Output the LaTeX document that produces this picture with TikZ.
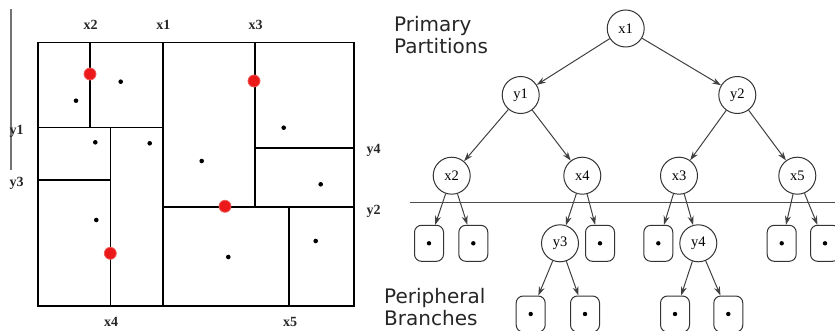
\documentclass[tikz,border=0pt]{standalone}
\usepackage{fontspec}
\setmainfont{Liberation Serif}
\newfontfamily\sansf{DejaVu Sans}
\usetikzlibrary{arrows.meta}
\begin{document}
\begin{tikzpicture}[x=1pt,y=-1pt,
  part/.style={line width=1.6pt,black},
  lbl/.style={font=\bfseries\fontsize{14}{16}\selectfont,text=black!85,inner sep=0pt},
  reddot/.style={fill={rgb,255:red,235;green,25;blue,25},draw={rgb,255:red,240;green,90;blue,90},line width=0.8pt},
  blkdot/.style={fill=black},
  tnode/.style={circle,draw=black!80,line width=1pt,minimum size=37pt,inner sep=0pt,font=\fontsize{14.5}{16}\selectfont},
  leaf/.style={draw=black!80,line width=1pt,rounded corners=7pt,minimum width=29pt,minimum height=36pt,inner sep=0pt},
  edge/.style={draw=black!75,line width=1pt,-{Stealth[length=9pt,width=6pt]}},
  side/.style={font=\sansf\fontsize{20}{22}\selectfont,text=black!85,align=left,inner sep=0pt,anchor=north west}
]
\useasboundingbox (0,0) rectangle (835,331);
% ---- left panel ----
\draw[line width=1.2pt,black!55] (11,9) -- (11,170);
\draw[part] (37.7,42.7) rectangle (354,305.7);
\draw[part] (162.7,42.7) -- (162.7,305.7);
\draw[part] (37.7,127.7) -- (162.7,127.7);
\draw[part] (90,42.7) -- (90,127.7);
\draw[part] (110.3,127.7) -- (110.3,305.7);
\draw[part] (37.7,180) -- (110.3,180);
\draw[part] (162.7,207.3) -- (354,207.3);
\draw[part] (255,42.7) -- (255,207.3);
\draw[part] (255,148) -- (354,148);
\draw[part] (288.7,207.3) -- (288.7,305.7);
% red split points
\foreach \p in {(90,74),(254,81),(225,206.3),(110.3,253.3)}
  \path[reddot] \p circle (6pt);
% data points
\foreach \p in {(120.7,81.7),(76,100.7),(95.3,142.3),(149.7,143.3),(201.7,161),(283.7,127.7),(320.7,184.3),(96.3,220),(228.3,257),(315.7,241)}
  \path[blkdot] \p circle (2.3pt);
% labels
\node[lbl] (lx2) at (90.7,25) {x2};
\node[lbl] (lx1) at (163.3,25) {x1};
\node[lbl] (lx3) at (255.7,25) {x3};
\node[lbl] (ly1) at (16.5,131) {y1};
\node[lbl] (ly3) at (16.5,183) {y3};
\node[lbl] (ly4) at (373.5,150) {y4};
\node[lbl] (ly2) at (373.5,211) {y2};
\node[lbl] (lx4) at (111,322) {x4};
\node[lbl] (lx5) at (290,322) {x5};
% ---- right panel ----
\node[side] (prim) at (394,16) {Primary\\Partitions};
\node[side] (peri) at (384,288) {Peripheral\\Branches};
\draw[line width=1.5pt,black!70] (410,202.7) -- (840,202.7);
\node[tnode] (nx1) at (625.7,28.5) {x1};
\node[tnode] (ny1) at (520.7,95) {y1};
\node[tnode] (ny2) at (737.3,95) {y2};
\node[tnode] (nx2) at (451.7,175.7) {x2};
\node[tnode] (nx4) at (582.3,175.7) {x4};
\node[tnode] (nx3) at (679,175.7) {x3};
\node[tnode] (nx5) at (797.3,175.7) {x5};
\node[tnode] (ny3) at (560,243.3) {y3};
\node[tnode] (ny4) at (698.3,243.3) {y4};
\foreach \n/\x/\y in {la/429/243.3, lb/473.3/243.3, lc/600/243.3, ld/658.3/243.3, le/781.7/243.3, lf/825/243.3,
                     lg/530.7/314, lh/585/314, li/675/314, lj/728.3/314}{
  \node[leaf] (\n) at (\x,\y) {};
  \fill (\n.center) circle (2.2pt);
}
\draw[edge] (nx1) -- (ny1);
\draw[edge] (nx1) -- (ny2);
\draw[edge] (ny1) -- (nx2);
\draw[edge] (ny1) -- (nx4);
\draw[edge] (ny2) -- (nx3);
\draw[edge] (ny2) -- (nx5);
\draw[edge] (nx2) -- (la);
\draw[edge] (nx2) -- (lb);
\draw[edge] (nx4) -- (ny3);
\draw[edge] (nx4) -- (lc);
\draw[edge] (nx3) -- (ld);
\draw[edge] (nx3) -- (ny4);
\draw[edge] (nx5) -- (le);
\draw[edge] (nx5) -- (lf);
\draw[edge] (ny3) -- (lg);
\draw[edge] (ny3) -- (lh);
\draw[edge] (ny4) -- (li);
\draw[edge] (ny4) -- (lj);
\end{tikzpicture}
\end{document}
